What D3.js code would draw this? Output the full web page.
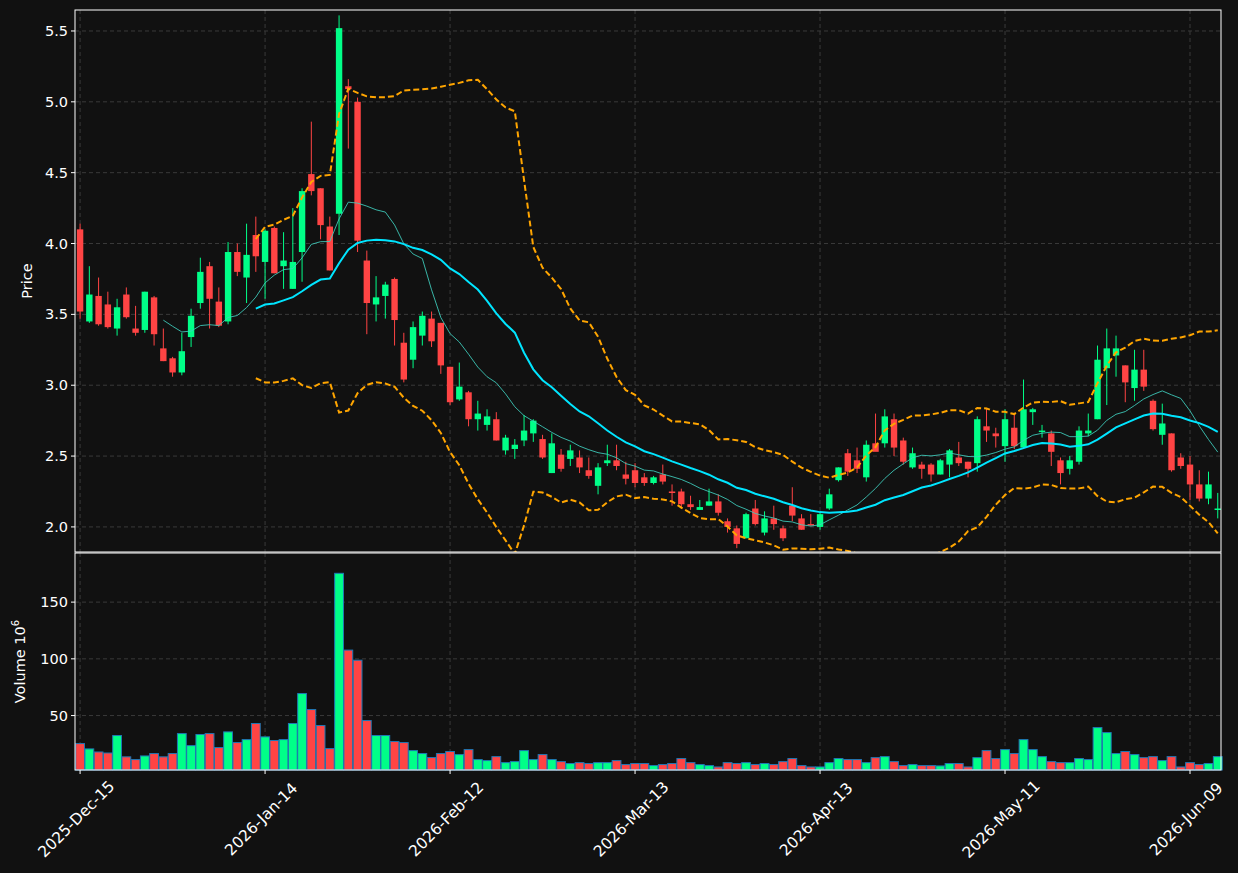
<!DOCTYPE html>
<html><head><meta charset="utf-8">
<script src="https://cdn.jsdelivr.net/npm/d3@7"></script>
<style>body{margin:0;background:#111111;}svg{display:block;font-family:"DejaVu Sans",sans-serif;}</style>
</head><body><svg id="c" width="1238" height="873"></svg>
<script>
const opens  = [4.10,3.45,3.63,3.57,3.40,3.64,3.40,3.39,3.62,3.26,3.19,3.09,3.34,3.58,3.84,3.59,3.45,3.94,3.76,4.06,3.87,4.11,3.84,3.68,3.94,4.49,4.39,4.12,4.21,5.11,5.00,3.88,3.57,3.63,3.75,3.30,3.18,3.35,3.47,3.44,3.13,2.90,2.95,2.76,2.72,2.76,2.54,2.55,2.61,2.66,2.62,2.38,2.51,2.48,2.49,2.40,2.29,2.45,2.47,2.37,2.40,2.35,2.31,2.37,2.25,2.25,2.16,2.12,2.15,2.18,2.04,1.99,1.92,2.13,1.96,2.06,1.99,2.15,2.06,2.02,2.00,2.13,2.33,2.52,2.47,2.35,2.59,2.59,2.76,2.61,2.42,2.44,2.44,2.37,2.44,2.49,2.46,2.45,2.71,2.66,2.57,2.70,2.56,2.81,2.67,2.66,2.47,2.41,2.46,2.66,2.76,3.12,3.21,3.14,2.98,3.11,2.89,2.65,2.66,2.49,2.44,2.30,2.20,2.13];
const highs  = [4.14,3.84,3.76,3.66,3.61,3.69,3.56,3.66,3.63,3.40,3.20,3.37,3.54,3.90,3.87,3.69,4.01,4.00,4.14,4.19,4.10,4.12,4.08,4.25,4.39,4.86,4.39,4.19,5.61,5.16,5.03,3.95,3.77,3.73,3.76,3.37,3.45,3.52,3.52,3.44,3.13,3.16,2.96,2.89,2.83,2.81,2.65,2.62,2.79,2.76,2.65,2.66,2.55,2.58,2.54,2.49,2.45,2.58,2.58,2.46,2.45,2.38,2.36,2.44,2.30,2.27,2.22,2.19,2.27,2.23,2.06,2.01,2.10,2.19,2.11,2.15,2.01,2.28,2.09,2.09,2.10,2.27,2.42,2.55,2.56,2.61,2.80,2.83,2.80,2.63,2.56,2.46,2.45,2.48,2.55,2.60,2.46,2.78,2.84,2.70,2.83,2.80,3.04,2.84,2.72,2.68,2.49,2.50,2.71,2.80,3.28,3.40,3.35,3.14,3.25,3.25,2.90,2.87,2.66,2.52,2.50,2.40,2.39,2.24];
const lows   = [3.47,3.44,3.42,3.40,3.35,3.47,3.35,3.37,3.28,3.17,3.06,3.07,3.27,3.54,3.40,3.41,3.43,3.77,3.58,3.80,3.61,3.79,3.68,3.68,3.73,4.34,4.03,3.81,4.06,4.67,3.94,3.36,3.45,3.47,3.28,3.02,3.12,3.28,3.27,3.08,2.86,2.89,2.71,2.68,2.68,2.61,2.51,2.48,2.57,2.60,2.48,2.38,2.39,2.43,2.38,2.34,2.23,2.43,2.40,2.30,2.28,2.29,2.30,2.30,2.15,2.13,2.12,2.12,2.15,2.08,1.96,1.85,1.92,2.01,1.94,1.98,1.90,2.04,1.98,2.01,1.98,2.12,2.32,2.36,2.38,2.32,2.55,2.56,2.50,2.44,2.41,2.34,2.32,2.37,2.35,2.43,2.35,2.39,2.60,2.56,2.46,2.55,2.55,2.72,2.63,2.43,2.30,2.37,2.44,2.64,2.76,2.86,3.06,2.88,2.89,2.96,2.68,2.58,2.39,2.41,2.19,2.18,2.16,2.06];
const closes = [3.52,3.64,3.43,3.41,3.55,3.48,3.37,3.66,3.36,3.17,3.09,3.24,3.49,3.80,3.61,3.42,3.94,3.80,3.92,3.91,4.09,3.79,3.88,3.87,4.37,4.37,4.13,3.81,5.52,5.09,4.02,3.58,3.62,3.71,3.46,3.04,3.41,3.49,3.31,3.14,2.88,2.99,2.76,2.80,2.78,2.61,2.63,2.58,2.68,2.75,2.49,2.59,2.41,2.54,2.42,2.36,2.42,2.47,2.43,2.34,2.31,2.31,2.35,2.32,2.24,2.16,2.14,2.14,2.18,2.10,2.00,1.88,2.09,2.02,2.06,2.02,1.92,2.08,1.98,2.01,2.09,2.23,2.42,2.39,2.41,2.58,2.53,2.78,2.56,2.46,2.52,2.41,2.37,2.47,2.54,2.45,2.41,2.76,2.68,2.64,2.76,2.57,2.83,2.83,2.68,2.53,2.38,2.47,2.68,2.68,3.18,3.26,3.26,3.02,3.11,2.99,2.69,2.73,2.40,2.43,2.30,2.20,2.30,2.13];
const volumes = [25.3,20.6,17.9,17.0,32.4,13.6,11.2,14.4,16.5,13.6,16.5,34.1,23.5,33.3,34.1,21.8,35.6,26.2,28.8,43,31.2,28,28.8,43,69.4,55.3,41.2,20.9,175.4,107.7,98.8,45.6,32.4,32.4,27.1,26.2,19.1,16.5,13,16.5,18.3,15.6,20,11.2,10.3,13.8,8.5,9.4,19.1,11.2,15.6,11.2,9.4,7.7,8.5,7.7,8.5,8.5,10.3,6.8,7.7,7.7,5.9,6.8,7.7,12.1,8.5,6.8,5.9,4.7,8.5,7.7,8.5,6.8,7.7,6.8,9.4,12.1,5.9,4.7,4.7,8.5,12.1,11.2,11.2,8.5,12.9,13.8,9.4,5.9,6.8,5.9,5.9,5.6,7.7,7.7,4.7,12.9,19.1,12.1,20,16.5,28.8,20,13.8,9.4,8.5,8.5,12.1,11.2,39.4,35,16.5,18.3,15.6,12.9,13.8,10.3,13.8,4.7,8.5,6.8,7.7,13.8];
const tickIdx = [0,20,40,60,80,100,120];
const tickLabels = ["2025-Dec-15","2026-Jan-14","2026-Feb-12","2026-Mar-13","2026-Apr-13","2026-May-11","2026-Jun-09"];
const priceTicks = [2.0,2.5,3.0,3.5,4.0,4.5,5.0,5.5];
const volTicks = [50,100,150];

const svg = d3.select("#c");
const L=75,R=1221,T1=10,B1=552,T2=553,B2=770;
const GREEN="#00ff88",RED="#ff4444",GRID="#3a3a3a";
const x = d3.scaleLinear().domain([-0.55,123.35]).range([L,R]);
const y = d3.scaleLinear().domain([1.823,5.648]).range([B1,T1]);
const yv = d3.scaleLinear().domain([2,193.3]).range([B2,T2]);
svg.append("rect").attr("width",1238).attr("height",873).attr("fill","#111111");
const defs=svg.append("defs");
defs.append("clipPath").attr("id","cp").append("rect").attr("x",L).attr("y",T1).attr("width",R-L).attr("height",B1-T1);

const gg=svg.append("g").attr("stroke",GRID).attr("stroke-dasharray","4,3").attr("stroke-width",1);
tickIdx.forEach(i=>{gg.append("line").attr("x1",x(i)).attr("x2",x(i)).attr("y1",T1).attr("y2",B1);
 gg.append("line").attr("x1",x(i)).attr("x2",x(i)).attr("y1",T2).attr("y2",B2);});
priceTicks.forEach(p=>gg.append("line").attr("x1",L).attr("x2",R).attr("y1",y(p)).attr("y2",y(p)));
volTicks.forEach(v=>gg.append("line").attr("x1",L).attr("x2",R).attr("y1",yv(v)).attr("y2",yv(v)));

function sma(n){return closes.map((c,i)=>i<n-1?null:d3.mean(closes.slice(i-n+1,i+1)));}
function sd(n){return closes.map((c,i)=>i<n-1?null:d3.deviation(closes.slice(i-n+1,i+1)));}
const ma20=sma(20),ma10=sma(10),s20=sd(20);
const up=ma20.map((m,i)=>m==null?null:m+2*s20[i]), lo=ma20.map((m,i)=>m==null?null:m-2*s20[i]);
const line=d3.line().defined(d=>d!=null).x((d,i)=>x(i)).y(d=>y(d));
const pg=svg.append("g").attr("clip-path","url(#cp)");
closes.forEach((c,i)=>{
  const o=opens[i],col=c>=o?GREEN:RED;
  pg.append("line").attr("x1",x(i)).attr("x2",x(i)).attr("y1",y(highs[i])).attr("y2",y(lows[i])).attr("stroke",col).attr("stroke-width",1);
  const t=y(Math.max(o,c)),b=y(Math.min(o,c));
  pg.append("rect").attr("x",x(i)-3.2).attr("width",6.4).attr("y",t).attr("height",Math.max(1.5,b-t)).attr("fill",col);
});
pg.append("path").attr("d",line(ma10)).attr("fill","none").attr("stroke","#40d0c0").attr("stroke-width",1).attr("opacity",0.85);
pg.append("path").attr("d",line(ma20)).attr("fill","none").attr("stroke","#00e5ff").attr("stroke-width",2);
[up,lo].forEach(a=>pg.append("path").attr("d",line(a)).attr("fill","none").attr("stroke","#ffa500").attr("stroke-width",2).attr("stroke-dasharray","6,3"));

volumes.forEach((v,i)=>{
  const col=closes[i]>=opens[i]?GREEN:RED;
  svg.append("rect").attr("x",x(i)-4.4).attr("width",8.8).attr("y",yv(v)).attr("height",B2-yv(v)).attr("fill",col).attr("stroke","#1f77b4").attr("stroke-width",1);
});

[[T1,B1],[T2,B2]].forEach(([t,b])=>svg.append("rect").attr("x",L).attr("y",t).attr("width",R-L).attr("height",b-t).attr("fill","none").attr("stroke","#ffffff").attr("stroke-width",1));

const tx=svg.append("g").attr("fill","#ffffff").attr("font-size",14.5);
priceTicks.forEach(p=>{tx.append("line").attr("x1",L-4).attr("x2",L).attr("y1",y(p)).attr("y2",y(p)).attr("stroke","#fff");
 tx.append("text").attr("x",L-7).attr("y",y(p)).attr("dy","0.35em").attr("text-anchor","end").text(p.toFixed(1));});
volTicks.forEach(v=>{tx.append("line").attr("x1",L-4).attr("x2",L).attr("y1",yv(v)).attr("y2",yv(v)).attr("stroke","#fff");
 tx.append("text").attr("x",L-7).attr("y",yv(v)).attr("dy","0.35em").attr("text-anchor","end").text(v);});
tickIdx.forEach((ti,k)=>{tx.append("line").attr("x1",x(ti)).attr("x2",x(ti)).attr("y1",B2).attr("y2",B2+4).attr("stroke","#fff");
 tx.append("text").attr("transform",`translate(${x(ti)-4},${B2+49}) rotate(-45)`).attr("text-anchor","middle").attr("dy","0.35em").attr("font-size",15.5).text(tickLabels[k]);});
tx.append("text").attr("transform",`translate(32,${(T1+B1)/2}) rotate(-90)`).attr("text-anchor","middle").text("Price");
const vl=tx.append("text").attr("transform",`translate(25,${(T2+B2)/2}) rotate(-90)`).attr("text-anchor","middle");
vl.append("tspan").text("Volume  10");
vl.append("tspan").attr("font-size",10).attr("dy","-6").text("6");
</script></body></html>
